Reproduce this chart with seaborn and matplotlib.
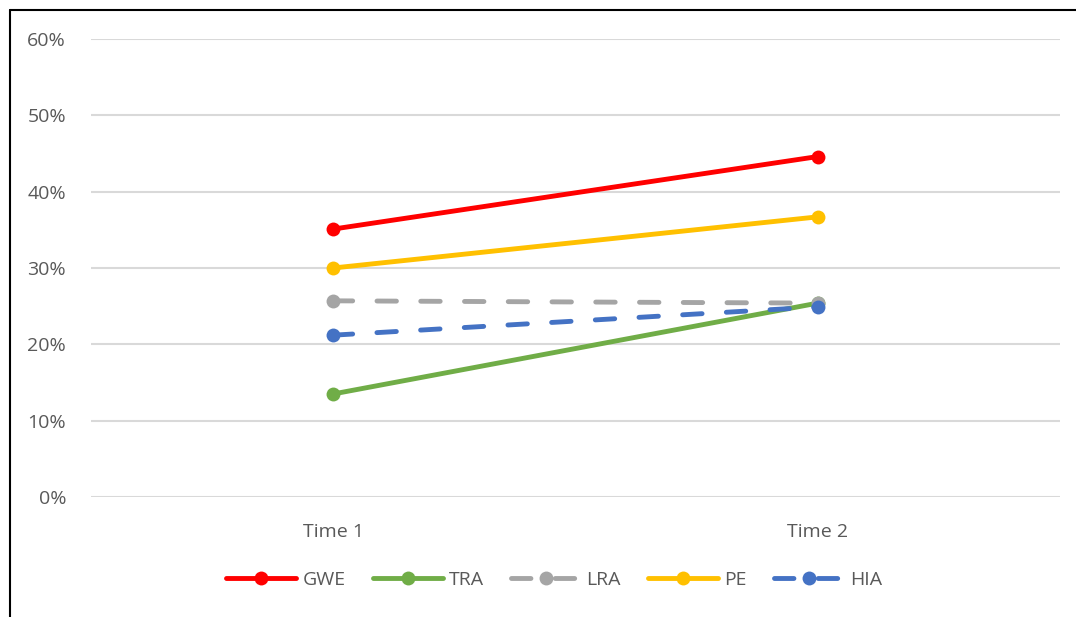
import numpy as np
import pandas as pd
import seaborn as sns
import matplotlib.pyplot as plt
from matplotlib.lines import Line2D
from matplotlib.ticker import PercentFormatter

# Data
times = ["Time 1", "Time 2"]
gwe = [35.1, 44.6]
tra = [13.5, 25.4]
lra = [25.7, 25.4]
pe = [30.0, 36.7]
hia = [21.2, 24.9]

series_names = ["GWE", "TRA", "LRA", "PE", "HIA"]
colors = {"GWE": "#FF0000", "TRA": "#70AD47", "LRA": "#A5A5A5",
          "PE": "#FFC000", "HIA": "#4472C4"}
dash_styles = {"GWE": "", "TRA": "", "LRA": (4, 5), "PE": "", "HIA": (4, 5)}

rows = []
for name, vals in zip(series_names, [gwe, tra, lra, pe, hia]):
    for t, v in zip(times, vals):
        rows.append({"time": t, "value": v, "series": name})
df = pd.DataFrame(rows)

sns.set_style("white")
plt.rcParams["font.family"] = ["Open Sans", "DejaVu Sans"]
plt.rcParams["lines.dash_capstyle"] = "round"
plt.rcParams["lines.solid_capstyle"] = "round"

fig = plt.figure(figsize=(10.76, 6.17), dpi=100)
ax = fig.add_axes([91 / 1076, 1 - 497 / 617, 969 / 1076, 458 / 617])

sns.lineplot(data=df, x="time", y="value", hue="series", style="series",
             hue_order=series_names, style_order=series_names,
             palette=colors, dashes=dash_styles, markers={n: "o" for n in series_names},
             markersize=10, markeredgewidth=0, linewidth=3.5, ax=ax, legend=False,
             sort=False)

ax.set_xlim(-0.5, 1.5)
ax.set_ylim(0, 60)
ax.set_yticks(np.arange(0, 61, 10))
ax.yaxis.set_major_formatter(PercentFormatter(decimals=0))
ax.grid(axis="y", color="#D9D9D9", linewidth=1.5)
ax.set_axisbelow(True)
for s in ax.spines.values():
    s.set_visible(False)
ax.set_xlabel("")
ax.set_ylabel("")
ax.tick_params(axis="both", length=0, labelsize=14, labelcolor="#595959")
ax.tick_params(axis="y", pad=18)
ax.tick_params(axis="x", pad=19)

# legend
handles = [Line2D([0], [0], color=colors[n], lw=3.5, marker="o", markersize=10,
                  markeredgewidth=0,
                  linestyle=(0, (4, 5)) if dash_styles[n] else "-",
                  dash_capstyle="round", solid_capstyle="round")
           for n in series_names]
fig.legend(handles, series_names, loc="center", bbox_to_anchor=(0.515, 1 - 580 / 617),
           ncol=5, frameon=False, fontsize=14, handlelength=3.6, columnspacing=1.4,
           handletextpad=0.3, labelcolor="#595959")

# figure frame (left and top edges)
fig.add_artist(Line2D([10 / 1076, 10 / 1076], [0, 1 - 10 / 617], color="black", lw=1.5,
                      transform=fig.transFigure))
fig.add_artist(Line2D([10 / 1076, 1], [1 - 10 / 617, 1 - 10 / 617], color="black", lw=1.5,
                      transform=fig.transFigure))

fig.savefig("out.png", dpi=100)
